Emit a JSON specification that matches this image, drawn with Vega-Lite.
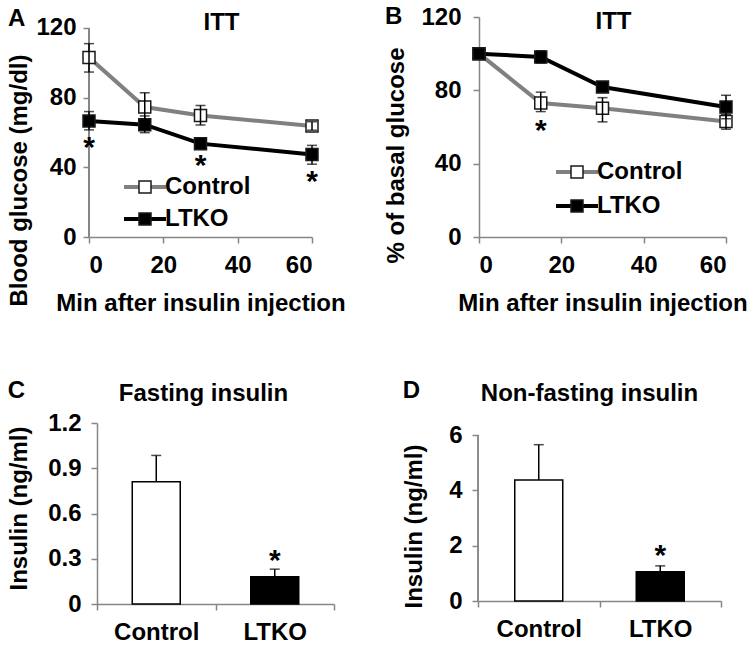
{
  "$schema": "https://vega.github.io/schema/vega-lite/v6.json",
  "background": "white",
  "padding": {"left": 7, "top": 5, "right": 0, "bottom": 0},
  "config": {
    "font": "Liberation Sans",
    "view": {"stroke": null},
    "axis": {"labelFont": "Liberation Sans", "labelFontSize": 24, "labelFontWeight": "bold", "labelColor": "black", "titleFont": "Liberation Sans", "titleFontSize": 24, "titleFontWeight": "bold", "titleColor": "black", "domainColor": "#868686", "tickColor": "#868686", "domainWidth": 1.5, "tickWidth": 1.5, "grid": false, "tickSize": 6},
    "axisX": {"labelPadding": 10, "titlePadding": 14},
    "legend": {"labelFont": "Liberation Sans", "labelFontSize": 24, "labelFontWeight": "bold", "labelColor": "black"},
    "title": {"font": "Liberation Sans", "fontSize": 24, "fontWeight": "bold", "color": "black", "anchor": "start", "frame": "bounds"}
  },
  "datasets": {
    "glucose": [
      {"series": "Control", "t": 0, "mean": 103, "lo": 94.7, "hi": 111, "sig": ""},
      {"series": "Control", "t": 15, "mean": 74.6, "lo": 66.5, "hi": 82.8, "sig": ""},
      {"series": "Control", "t": 30, "mean": 69.8, "lo": 64.3, "hi": 75.5, "sig": ""},
      {"series": "Control", "t": 60, "mean": 63.7, "lo": 61.3, "hi": 66.2, "sig": ""},
      {"series": "LTKO", "t": 0, "mean": 66.6, "lo": 61.5, "hi": 72, "sig": "*"},
      {"series": "LTKO", "t": 15, "mean": 64.5, "lo": 59.9, "hi": 69.5, "sig": ""},
      {"series": "LTKO", "t": 30, "mean": 53.6, "lo": 51, "hi": 56.2, "sig": "*"},
      {"series": "LTKO", "t": 60, "mean": 47.4, "lo": 41.8, "hi": 52.6, "sig": "*"}
    ],
    "pct": [
      {"series": "Control", "t": 0, "mean": 100, "lo": 100, "hi": 100, "sig": ""},
      {"series": "Control", "t": 15, "mean": 73.1, "lo": 68.4, "hi": 79, "sig": "*"},
      {"series": "Control", "t": 30, "mean": 70.2, "lo": 62.8, "hi": 76, "sig": ""},
      {"series": "Control", "t": 60, "mean": 63, "lo": 58.8, "hi": 66.8, "sig": ""},
      {"series": "LTKO", "t": 0, "mean": 100, "lo": 100, "hi": 100, "sig": ""},
      {"series": "LTKO", "t": 15, "mean": 98.2, "lo": 95, "hi": 101.5, "sig": ""},
      {"series": "LTKO", "t": 30, "mean": 81.8, "lo": 79.5, "hi": 84, "sig": ""},
      {"series": "LTKO", "t": 60, "mean": 70.9, "lo": 64.5, "hi": 77.3, "sig": ""}
    ],
    "fasting": [
      {"series": "Control", "mean": 0.81, "hi": 0.985, "sig": ""},
      {"series": "LTKO", "mean": 0.18, "hi": 0.231, "sig": "*"}
    ],
    "nonfasting": [
      {"series": "Control", "mean": 4.37, "hi": 5.65, "sig": ""},
      {"series": "LTKO", "mean": 1.06, "hi": 1.27, "sig": "*"}
    ]
  },
  "spacing": 64,
  "resolve": {"scale": {"fill": "independent", "stroke": "independent"}, "legend": {"fill": "independent", "stroke": "independent"}},
  "vconcat": [
    {
      "spacing": 38,
      "resolve": {"scale": {"fill": "independent", "stroke": "independent"}, "legend": {"fill": "independent", "stroke": "independent"}},
      "hconcat": [
        {
          "width": 223, "height": 220,
          "title": {"text": "A", "offset": -21},
          "data": {"name": "glucose"},
          "resolve": {"axis": {"x": "independent"}},
          "layer": [
            {
              "mark": {"type": "rule", "color": "#868686", "strokeWidth": 1.5},
              "encoding": {
                "x": {"datum": 0, "type": "quantitative", "axis": null},
                "y": {"datum": 0, "type": "quantitative"},
                "y2": {"datum": 120}
              }
            },
            {
              "mark": {"type": "line", "strokeWidth": 4},
              "encoding": {
                "x": {"field": "t", "type": "quantitative", "scale": {"domain": [0, 60], "nice": false},
                  "axis": {"orient": "top", "title": "ITT", "domain": false, "ticks": false, "labels": false, "titleX": 132, "titleY": 5, "titleBaseline": "middle"}},
                "y": {"field": "mean", "type": "quantitative", "scale": {"domain": [0, 126.3], "nice": false},
                  "axis": {"values": [0, 40, 80, 120], "domain": false, "title": "Blood glucose (mg/dl)", "titleY": 163, "labelPadding": 7, "titlePadding": 4}},
                "stroke": {"field": "series", "type": "nominal", "scale": {"range": ["#808080", "#000000"]},
                  "legend": {"orient": "none", "legendX": 44, "legendY": 158, "title": null, "symbolType": "M-3.5,0H3.5", "symbolSize": 144, "symbolStrokeWidth": 4, "labelOpacity": 0, "labelOffset": 8, "rowPadding": 8, "padding": 0, "zindex": 0}}
              }
            },
            {
              "mark": {"type": "point", "shape": "square", "size": 144, "filled": true, "opacity": 1, "stroke": "#1a1a1a", "strokeWidth": 1.5},
              "encoding": {
                "x": {"field": "t", "type": "quantitative", "axis": {"values": [0, 20, 40, 60], "title": "Min after insulin injection"}},
                "y": {"field": "mean", "type": "quantitative"},
                "fill": {"field": "series", "type": "nominal", "scale": {"domain": ["Control", "LTKO"], "range": ["#ffffff", "#000000"]},
                  "legend": {"orient": "none", "legendX": 44, "legendY": 158, "title": null, "symbolType": "square", "symbolSize": 144, "symbolStrokeColor": "#1a1a1a", "symbolStrokeWidth": 1.5, "labelOffset": 8, "rowPadding": 8, "padding": 0, "zindex": 1}}
              }
            },
            {
              "mark": {"type": "rule", "color": "#000000", "strokeWidth": 1.5},
              "encoding": {
                "x": {"field": "t", "type": "quantitative", "axis": null},
                "y": {"field": "lo", "type": "quantitative"},
                "y2": {"field": "hi"}
              }
            },
            {
              "mark": {"type": "tick", "orient": "horizontal", "color": "#000000", "thickness": 1.5},
              "encoding": {
                "x": {"field": "t", "type": "quantitative", "axis": null},
                "y": {"field": "lo", "type": "quantitative"},
                "size": {"value": 10}
              }
            },
            {
              "mark": {"type": "tick", "orient": "horizontal", "color": "#000000", "thickness": 1.5},
              "encoding": {
                "x": {"field": "t", "type": "quantitative", "axis": null},
                "y": {"field": "hi", "type": "quantitative"},
                "size": {"value": 10}
              }
            },
            {
              "transform": [{"filter": "datum.sig == '*'"}],
              "mark": {"type": "text", "font": "Liberation Sans", "fontSize": 30, "fontWeight": "bold", "baseline": "middle", "dy": 18, "color": "#000000"},
              "encoding": {
                "x": {"field": "t", "type": "quantitative", "axis": null},
                "y": {"field": "lo", "type": "quantitative"},
                "text": {"field": "sig"}
              }
            }
          ]
        },
        {
          "width": 247, "height": 220,
          "title": {"text": "B", "offset": -24},
          "data": {"name": "pct"},
          "resolve": {"axis": {"x": "independent"}},
          "layer": [
            {
              "mark": {"type": "line", "strokeWidth": 4},
              "encoding": {
                "x": {"field": "t", "type": "quantitative", "scale": {"domain": [0, 60], "nice": false},
                  "axis": {"orient": "top", "title": "ITT", "domain": false, "ticks": false, "labels": false, "titleX": 134, "titleY": 4, "titleBaseline": "middle"}},
                "y": {"field": "mean", "type": "quantitative", "scale": {"domain": [0, 120], "nice": false},
                  "axis": {"values": [0, 40, 80, 120], "title": "% of basal glucose", "titleY": 138, "labelPadding": 12, "titlePadding": 12}},
                "stroke": {"field": "series", "type": "nominal", "scale": {"range": ["#808080", "#000000"]},
                  "legend": {"orient": "none", "legendX": 86, "legendY": 143, "title": null, "symbolType": "M-3.5,0H3.5", "symbolSize": 144, "symbolStrokeWidth": 4, "labelOpacity": 0, "labelOffset": 8, "rowPadding": 10, "padding": 0, "zindex": 0}}
              }
            },
            {
              "mark": {"type": "point", "shape": "square", "size": 144, "filled": true, "opacity": 1, "stroke": "#1a1a1a", "strokeWidth": 1.5},
              "encoding": {
                "x": {"field": "t", "type": "quantitative", "axis": {"values": [0, 20, 40, 60], "title": "Min after insulin injection"}},
                "y": {"field": "mean", "type": "quantitative"},
                "fill": {"field": "series", "type": "nominal", "scale": {"domain": ["Control", "LTKO"], "range": ["#ffffff", "#000000"]},
                  "legend": {"orient": "none", "legendX": 86, "legendY": 143, "title": null, "symbolType": "square", "symbolSize": 144, "symbolStrokeColor": "#1a1a1a", "symbolStrokeWidth": 1.5, "labelOffset": 8, "rowPadding": 10, "padding": 0, "zindex": 1}}
              }
            },
            {
              "mark": {"type": "rule", "color": "#000000", "strokeWidth": 1.5},
              "encoding": {
                "x": {"field": "t", "type": "quantitative", "axis": null},
                "y": {"field": "lo", "type": "quantitative"},
                "y2": {"field": "hi"}
              }
            },
            {
              "mark": {"type": "tick", "orient": "horizontal", "color": "#000000", "thickness": 1.5},
              "encoding": {
                "x": {"field": "t", "type": "quantitative", "axis": null},
                "y": {"field": "lo", "type": "quantitative"},
                "size": {"value": 10}
              }
            },
            {
              "mark": {"type": "tick", "orient": "horizontal", "color": "#000000", "thickness": 1.5},
              "encoding": {
                "x": {"field": "t", "type": "quantitative", "axis": null},
                "y": {"field": "hi", "type": "quantitative"},
                "size": {"value": 10}
              }
            },
            {
              "transform": [{"filter": "datum.sig == '*'"}],
              "mark": {"type": "text", "font": "Liberation Sans", "fontSize": 30, "fontWeight": "bold", "baseline": "middle", "dy": 19, "color": "#000000"},
              "encoding": {
                "x": {"field": "t", "type": "quantitative", "axis": null},
                "y": {"field": "lo", "type": "quantitative"},
                "text": {"field": "sig"}
              }
            }
          ]
        }
      ]
    },
    {
      "spacing": 67,
      "resolve": {"scale": {"fill": "independent"}},
      "hconcat": [
        {
          "width": 245, "height": 181,
          "title": {"text": "C", "offset": -22},
          "data": {"name": "fasting"},
          "resolve": {"axis": {"x": "independent"}},
          "layer": [
            {
              "mark": {"type": "bar", "stroke": "#000000", "strokeWidth": 1.5, "width": {"band": 0.405}},
              "encoding": {
                "x": {"field": "series", "type": "nominal", "scale": {"paddingInner": 0, "paddingOuter": 0, "range": [8, 245]},
                  "axis": {"title": null, "labelAngle": 0, "tickBand": "extent"}},
                "y": {"field": "mean", "type": "quantitative", "scale": {"domain": [0, 1.2], "nice": false},
                  "axis": {"values": [0, 0.3, 0.6, 0.9, 1.2], "offset": -8, "labelExpr": "datum.value == 0 ? '0' : format(datum.value, '.1f')", "title": "Insulin (ng/ml)", "titleY": 85, "labelPadding": 10, "titlePadding": 16}},
                "fill": {"field": "series", "type": "nominal", "scale": {"range": ["#ffffff", "#000000"]}, "legend": null}
              }
            },
            {
              "mark": {"type": "rule", "color": "#000000", "strokeWidth": 1.5},
              "encoding": {
                "x": {"field": "series", "type": "nominal",
                  "axis": {"orient": "top", "title": "Fasting insulin", "domain": false, "ticks": false, "labels": false, "titleX": 114, "titleY": -30, "titleBaseline": "middle"}},
                "y": {"field": "mean", "type": "quantitative"},
                "y2": {"field": "hi"}
              }
            },
            {
              "mark": {"type": "tick", "color": "#000000", "thickness": 1.5},
              "encoding": {
                "x": {"field": "series", "type": "nominal", "axis": null},
                "y": {"field": "hi", "type": "quantitative"},
                "size": {"value": 10}
              }
            },
            {
              "transform": [{"filter": "datum.sig == '*'"}],
              "mark": {"type": "text", "font": "Liberation Sans", "fontSize": 30, "fontWeight": "bold", "baseline": "middle", "dy": -8, "color": "#000000"},
              "encoding": {
                "x": {"field": "series", "type": "nominal", "axis": null},
                "y": {"field": "hi", "type": "quantitative"},
                "text": {"field": "sig"}
              }
            }
          ]
        },
        {
          "width": 243, "height": 178,
          "title": {"text": "D", "offset": -22},
          "data": {"name": "nonfasting"},
          "resolve": {"axis": {"x": "independent"}},
          "layer": [
            {
              "mark": {"type": "rule", "color": "#868686", "strokeWidth": 1.5},
              "encoding": {
                "x": {"datum": "Control", "type": "nominal", "bandPosition": 0, "axis": null},
                "y": {"datum": 0, "type": "quantitative"},
                "y2": {"datum": 6}
              }
            },
            {
              "mark": {"type": "bar", "stroke": "#000000", "strokeWidth": 1.5, "width": {"band": 0.395}},
              "encoding": {
                "x": {"field": "series", "type": "nominal", "scale": {"paddingInner": 0, "paddingOuter": 0},
                  "axis": {"title": null, "labelAngle": 0, "tickBand": "extent"}},
                "y": {"field": "mean", "type": "quantitative", "scale": {"domain": [0, 6.434], "nice": false},
                  "axis": {"values": [0, 2, 4, 6], "domain": false, "title": "Insulin (ng/ml)", "titleY": 103, "labelPadding": 10, "titlePadding": 22}},
                "fill": {"field": "series", "type": "nominal", "scale": {"range": ["#ffffff", "#000000"]}, "legend": null}
              }
            },
            {
              "mark": {"type": "rule", "color": "#000000", "strokeWidth": 1.5},
              "encoding": {
                "x": {"field": "series", "type": "nominal",
                  "axis": {"orient": "top", "title": "Non-fasting insulin", "domain": false, "ticks": false, "labels": false, "titleX": 111, "titleY": -30, "titleBaseline": "middle"}},
                "y": {"field": "mean", "type": "quantitative"},
                "y2": {"field": "hi"}
              }
            },
            {
              "mark": {"type": "tick", "color": "#000000", "thickness": 1.5},
              "encoding": {
                "x": {"field": "series", "type": "nominal", "axis": null},
                "y": {"field": "hi", "type": "quantitative"},
                "size": {"value": 10}
              }
            },
            {
              "transform": [{"filter": "datum.sig == '*'"}],
              "mark": {"type": "text", "font": "Liberation Sans", "fontSize": 30, "fontWeight": "bold", "baseline": "middle", "dy": -10, "color": "#000000"},
              "encoding": {
                "x": {"field": "series", "type": "nominal", "axis": null},
                "y": {"field": "hi", "type": "quantitative"},
                "text": {"field": "sig"}
              }
            }
          ]
        }
      ]
    }
  ]
}
